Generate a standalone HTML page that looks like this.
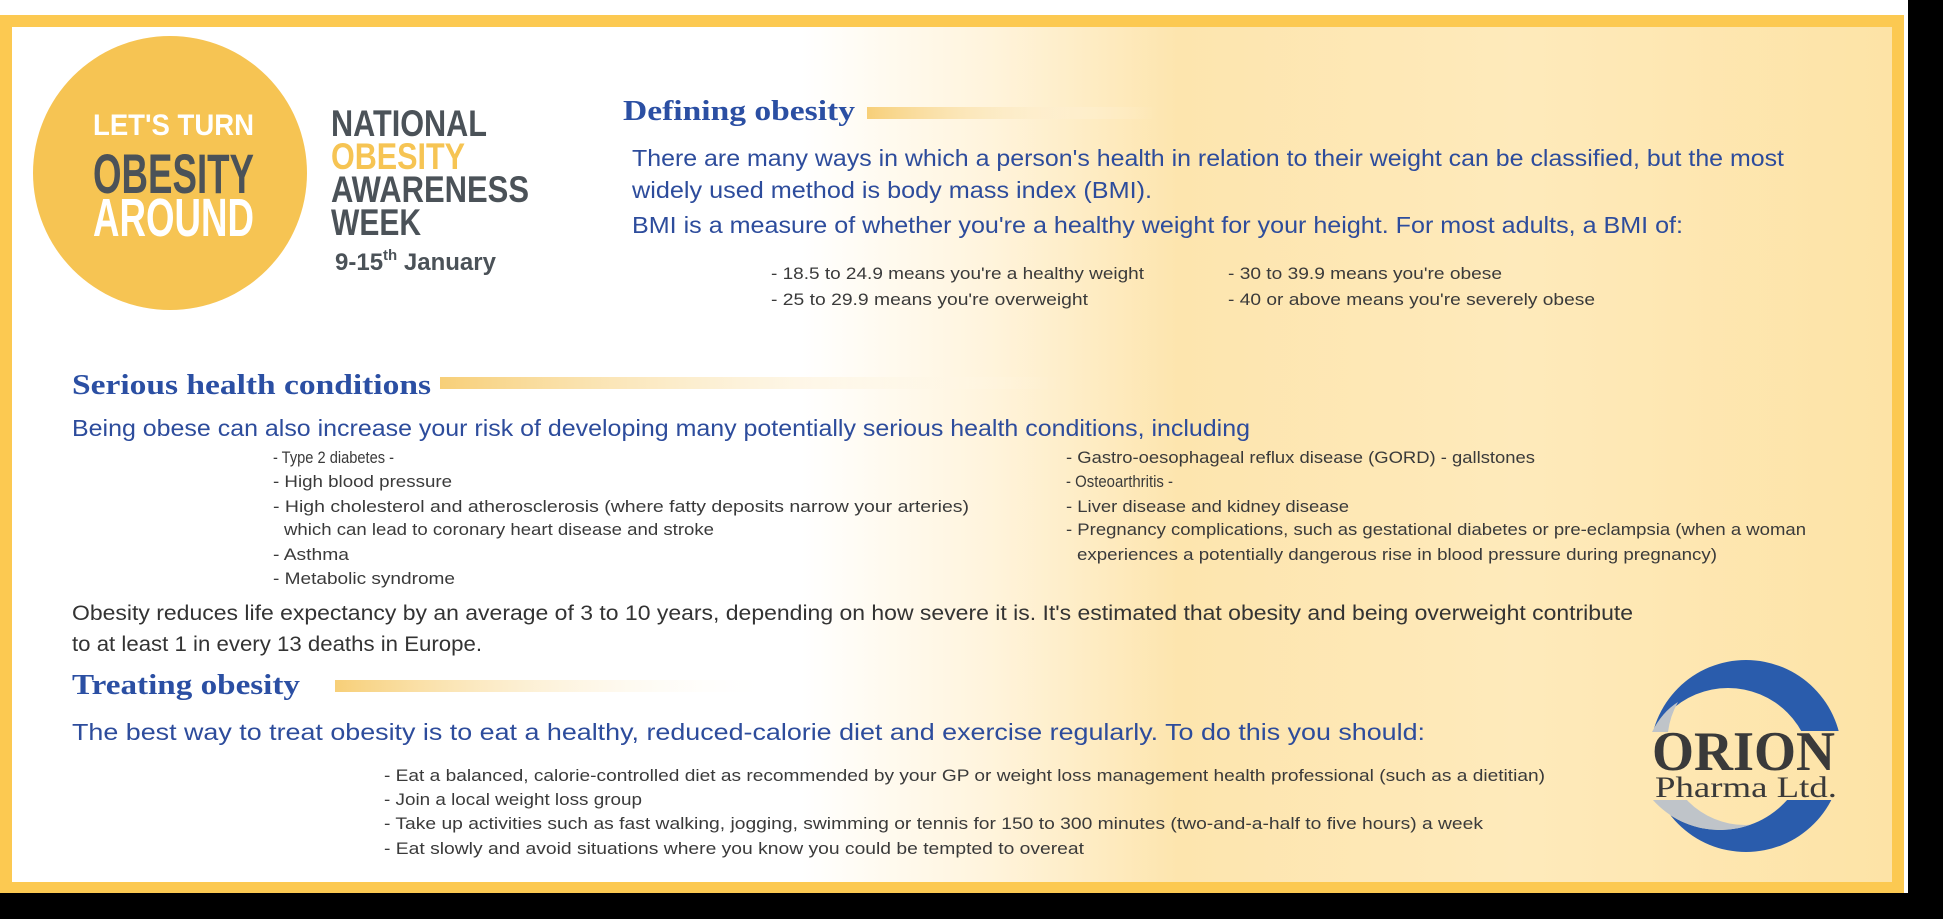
<!DOCTYPE html>
<html><head><meta charset="utf-8"><style>
html,body{margin:0;padding:0;background:#000;}
svg{display:block}
.h{font-family:"Liberation Serif",serif;font-weight:bold;fill:#2b4fa3;font-size:28px}
.p{font-family:"Liberation Sans",sans-serif;fill:#2d4c9c;font-size:23px}
.b{font-family:"Liberation Sans",sans-serif;fill:#3a3a3a;font-size:17px}
.o{font-family:"Liberation Sans",sans-serif;fill:#333;font-size:21px}
.n{font-family:"Liberation Sans",sans-serif;font-weight:bold;font-size:37px;fill:#4b5258}
.c{font-family:"Liberation Sans",sans-serif;font-weight:bold}
</style></head><body>
<svg width="1943" height="919" viewBox="0 0 1943 919" xmlns="http://www.w3.org/2000/svg">
<defs>
<linearGradient id="bg" x1="0" x2="1" y1="0" y2="0">
<stop offset="0" stop-color="#fff"/><stop offset="0.42" stop-color="#fff"/>
<stop offset="0.52" stop-color="#fff4dc"/><stop offset="0.62" stop-color="#fde5ae"/>
<stop offset="0.8" stop-color="#feeabb"/><stop offset="1" stop-color="#fde3a6"/>
</linearGradient>
<linearGradient id="bar" x1="0" x2="1"><stop offset="0" stop-color="#f7cf78"/><stop offset="1" stop-color="#fff" stop-opacity="0"/></linearGradient>
<mask id="mt"><rect x="1600" y="600" width="300" height="300" fill="#000"/><circle cx="1746" cy="756" r="96" fill="#fff"/><circle cx="1728" cy="772" r="84" fill="#000"/><rect x="1600" y="731" width="300" height="200" fill="#000"/></mask>
<mask id="mb"><rect x="1600" y="600" width="300" height="300" fill="#000"/><circle cx="1746" cy="756" r="96" fill="#fff"/><circle cx="1720" cy="740" r="90" fill="#000"/><rect x="1600" y="600" width="300" height="200" fill="#000"/></mask>
<mask id="mg"><rect x="1600" y="600" width="300" height="300" fill="#000"/><circle cx="1720" cy="740" r="90" fill="#fff"/><circle cx="1745" cy="745" r="80" fill="#000"/><rect x="1600" y="600" width="300" height="200" fill="#000"/></mask>
</defs>
<rect x="0" y="0" width="1908" height="893" fill="#fff"/>
<rect x="0" y="15" width="1904" height="878" fill="#fcc951"/>
<rect x="12" y="27" width="1880" height="855" fill="url(#bg)"/>

<circle cx="170" cy="173" r="137" fill="#f6c453"/>
<text class="c" x="93" y="135" font-size="30" fill="#fff" textLength="161" lengthAdjust="spacingAndGlyphs">LET'S TURN</text>
<text class="c" x="93" y="193" font-size="56" fill="#4b5258" textLength="161" lengthAdjust="spacingAndGlyphs">OBESITY</text>
<text class="c" x="93" y="236" font-size="54" fill="#fff" textLength="161" lengthAdjust="spacingAndGlyphs">AROUND</text>

<text class="n" x="331" y="136" textLength="156" lengthAdjust="spacingAndGlyphs">NATIONAL</text>
<text class="n" x="331" y="169" style="fill:#f6c453" textLength="134" lengthAdjust="spacingAndGlyphs">OBESITY</text>
<text class="n" x="331" y="202" textLength="198" lengthAdjust="spacingAndGlyphs">AWARENESS</text>
<text class="n" x="331" y="235" textLength="90" lengthAdjust="spacingAndGlyphs">WEEK</text>
<text class="c" x="335" y="270" font-size="24" fill="#4b5258">9-15<tspan font-size="15" dy="-10">th</tspan><tspan dy="10"> January</tspan></text>

<text class="h" x="623" y="120" textLength="232" lengthAdjust="spacingAndGlyphs">Defining obesity</text>
<rect x="867" y="107" width="291" height="12" fill="url(#bar)"/>
<text class="p" x="632" y="166" textLength="1152" lengthAdjust="spacingAndGlyphs">There are many ways in which a person's health in relation to their weight can be classified, but the most</text>
<text class="p" x="632" y="198" textLength="520" lengthAdjust="spacingAndGlyphs">widely used method is body mass index (BMI).</text>
<text class="p" x="632" y="233" textLength="1051" lengthAdjust="spacingAndGlyphs">BMI is a measure of whether you're a healthy weight for your height. For most adults, a BMI of:</text>
<text class="b" x="771" y="279" textLength="373" lengthAdjust="spacingAndGlyphs">- 18.5 to 24.9 means you're a healthy weight</text>
<text class="b" x="771" y="305" textLength="317" lengthAdjust="spacingAndGlyphs">- 25 to 29.9 means you're overweight</text>
<text class="b" x="1228" y="279" textLength="274" lengthAdjust="spacingAndGlyphs">- 30 to 39.9 means you're obese</text>
<text class="b" x="1228" y="305" textLength="367" lengthAdjust="spacingAndGlyphs">- 40 or above means you're severely obese</text>

<text class="h" x="72" y="394" textLength="359" lengthAdjust="spacingAndGlyphs">Serious health conditions</text>
<rect x="440" y="377" width="626" height="12" fill="url(#bar)"/>
<text class="p" x="72" y="436" textLength="1178" lengthAdjust="spacingAndGlyphs">Being obese can also increase your risk of developing many potentially serious health conditions, including</text>
<text class="b" x="273" y="463" textLength="121" lengthAdjust="spacingAndGlyphs">- Type 2 diabetes -</text>
<text class="b" x="273" y="487" textLength="179" lengthAdjust="spacingAndGlyphs">- High blood pressure</text>
<text class="b" x="273" y="512" textLength="696" lengthAdjust="spacingAndGlyphs">- High cholesterol and atherosclerosis (where fatty deposits narrow your arteries)</text>
<text class="b" x="284" y="535" textLength="430" lengthAdjust="spacingAndGlyphs">which can lead to coronary heart disease and stroke</text>
<text class="b" x="273" y="560" textLength="76" lengthAdjust="spacingAndGlyphs">- Asthma</text>
<text class="b" x="273" y="584" textLength="182" lengthAdjust="spacingAndGlyphs">- Metabolic syndrome</text>
<text class="b" x="1066" y="463" textLength="469" lengthAdjust="spacingAndGlyphs">- Gastro-oesophageal reflux disease (GORD) - gallstones</text>
<text class="b" x="1066" y="487" textLength="107" lengthAdjust="spacingAndGlyphs">- Osteoarthritis -</text>
<text class="b" x="1066" y="512" textLength="283" lengthAdjust="spacingAndGlyphs">- Liver disease and kidney disease</text>
<text class="b" x="1066" y="535" textLength="740" lengthAdjust="spacingAndGlyphs">- Pregnancy complications, such as gestational diabetes or pre-eclampsia (when a woman</text>
<text class="b" x="1077" y="560" textLength="640" lengthAdjust="spacingAndGlyphs">experiences a potentially dangerous rise in blood pressure during pregnancy)</text>

<text class="o" x="72" y="620" textLength="1561" lengthAdjust="spacingAndGlyphs">Obesity reduces life expectancy by an average of 3 to 10 years, depending on how severe it is. It's estimated that obesity and being overweight contribute</text>
<text class="o" x="72" y="651" textLength="410" lengthAdjust="spacingAndGlyphs">to at least 1 in every 13 deaths in Europe.</text>

<text class="h" x="72" y="694" textLength="228" lengthAdjust="spacingAndGlyphs">Treating obesity</text>
<rect x="335" y="680" width="439" height="12" fill="url(#bar)"/>
<text class="p" x="72" y="740" textLength="1353" lengthAdjust="spacingAndGlyphs">The best way to treat obesity is to eat a healthy, reduced-calorie diet and exercise regularly. To do this you should:</text>
<text class="b" x="384" y="781" textLength="1161" lengthAdjust="spacingAndGlyphs">- Eat a balanced, calorie-controlled diet as recommended by your GP or weight loss management health professional (such as a dietitian)</text>
<text class="b" x="384" y="805" textLength="258" lengthAdjust="spacingAndGlyphs">- Join a local weight loss group</text>
<text class="b" x="384" y="829" textLength="1099" lengthAdjust="spacingAndGlyphs">- Take up activities such as fast walking, jogging, swimming or tennis for 150 to 300 minutes (two-and-a-half to five hours) a week</text>
<text class="b" x="384" y="854" textLength="700" lengthAdjust="spacingAndGlyphs">- Eat slowly and avoid situations where you know you could be tempted to overeat</text>

<rect x="1600" y="600" width="300" height="300" fill="#2a5cac" mask="url(#mt)"/>
<rect x="1600" y="600" width="300" height="300" fill="#2a5cac" mask="url(#mb)"/>
<rect x="1600" y="600" width="300" height="300" fill="#bfc4c9" mask="url(#mg)"/>
<path d="M1652,732 Q1662,712 1678,702 Q1670,716 1668,732 Z" fill="#bfc4c9"/>
<text x="1652" y="770" font-family="Liberation Serif,serif" font-weight="bold" font-size="56" fill="#3a3a3a" textLength="183" lengthAdjust="spacingAndGlyphs">ORION</text>
<text x="1655" y="797" font-family="Liberation Serif,serif" font-size="30" fill="#3a3a3a" textLength="182" lengthAdjust="spacingAndGlyphs">Pharma Ltd.</text>
</svg>
</body></html>
